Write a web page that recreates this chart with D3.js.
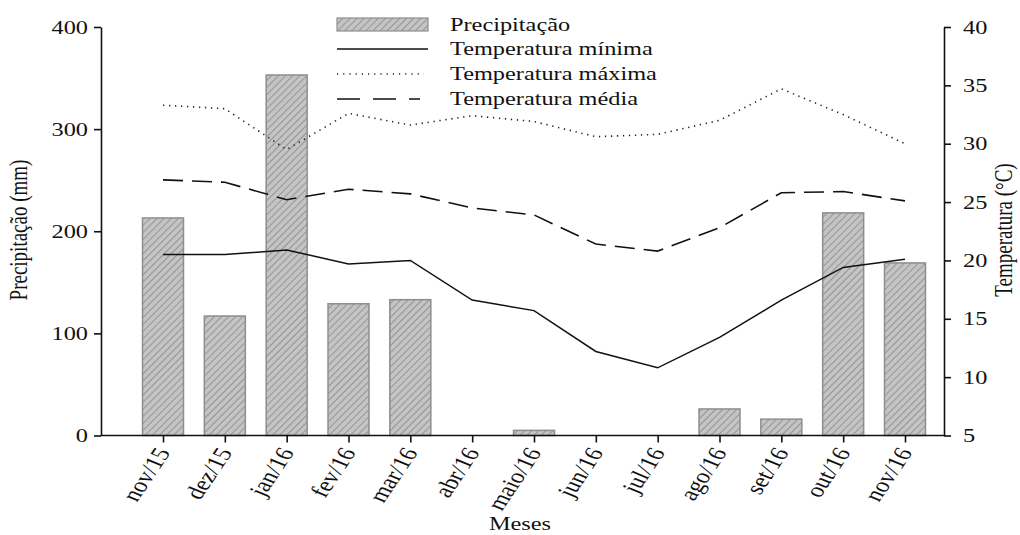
<!DOCTYPE html>
<html>
<head>
<meta charset="utf-8">
<script src="https://cdn.jsdelivr.net/npm/d3@7"></script>
<style>
  body { margin: 0; background: #fff; }
  text { font-family: "Liberation Serif", "Times New Roman", serif; fill: #111; }
</style>
</head>
<body>
<script>
// chart data
var meses = ["nov/15", "dez/15", "jan/16", "fev/16", "mar/16", "abr/16", "maio/16",
             "jun/16", "jul/16", "ago/16", "set/16", "out/16", "nov/16"];
var precipitacao = [213, 117, 353, 129, 133, 0, 5, 0, 0, 26, 16, 218, 169];
var tempMin = [20.5, 20.5, 20.9, 19.7, 20.0, 16.6, 15.7, 12.2, 10.8, 13.4, 16.6, 19.4, 20.1];
var tempMax = [33.3, 33.0, 29.5, 32.6, 31.6, 32.4, 31.9, 30.6, 30.8, 32.0, 34.7, 32.5, 30.0];
var tempMed = [26.9, 26.7, 25.2, 26.1, 25.7, 24.5, 23.9, 21.4, 20.8, 22.8, 25.8, 25.9, 25.1];
var precipTicks = [0, 100, 200, 300, 400];
var tempTicks = [5, 10, 15, 20, 25, 30, 35, 40];

var W = 1020, H = 535;
var Left = 101, Right = 944, Top = 27, Bottom = 435.5;
var SX = 1.28; // the figure text is stretched horizontally
var FS = 19;

var svg = d3.select("body").append("svg").attr("width", W).attr("height", H);

// hatch for the bars
var pat = svg.append("defs").append("pattern")
  .attr("id", "hatch")
  .attr("patternUnits", "userSpaceOnUse")
  .attr("width", 5).attr("height", 5)
  .attr("patternTransform", "rotate(45)");
pat.append("rect").attr("width", 5).attr("height", 5).attr("fill", "#c4c4c4");
pat.append("line").attr("x1", 0).attr("y1", 0).attr("x2", 0).attr("y2", 5)
  .attr("stroke", "#7a7a7a").attr("stroke-width", 1.3);

var x = d3.scalePoint().domain(meses).range([163, 905]);
var yP = d3.scaleLinear().domain([0, 400]).range([Bottom, Top]);
var yT = d3.scaleLinear().domain([5, 40]).range([Bottom, Top]);
var barW = 41;

// bars (zero months have no bar)
var barData = precipitacao.map(function(d, i) { return {mes: meses[i], v: d}; })
  .filter(function(d) { return d.v > 0; });
svg.selectAll("rect.bar")
  .data(barData)
  .enter()
  .append("rect")
  .attr("class", "bar")
  .attr("x", function(d) { return x(d.mes) - barW / 2; })
  .attr("y", function(d) { return yP(d.v); })
  .attr("width", barW)
  .attr("height", function(d) { return Bottom - yP(d.v); })
  .attr("fill", "url(#hatch)")
  .attr("stroke", "#8e8e8e")
  .attr("stroke-width", 1.5);

// lines
function tline(vals) {
  return d3.line()
    .x(function(d, i) { return x(meses[i]); })
    .y(function(d) { return yT(d); })(vals);
}
svg.append("path").attr("d", tline(tempMin)).attr("fill", "none")
  .attr("stroke", "#111").attr("stroke-width", 1.5);
svg.append("path").attr("d", tline(tempMax)).attr("fill", "none")
  .attr("stroke", "#222").attr("stroke-width", 1.6)
  .attr("stroke-dasharray", "1.3,4.7");
svg.append("path").attr("d", tline(tempMed)).attr("fill", "none")
  .attr("stroke", "#111").attr("stroke-width", 1.6)
  .attr("stroke-dasharray", "20,9");

// axes
function styleAxis(g) {
  g.selectAll("path").attr("stroke", "#111").attr("stroke-width", 1.6);
  g.selectAll("line").attr("stroke", "#111").attr("stroke-width", 1.6);
  g.selectAll("text").remove();
}
var axL = svg.append("g").attr("transform", "translate(" + Left + ",0)")
  .call(d3.axisLeft(yP).tickValues(precipTicks).tickSize(7).tickSizeOuter(0));
styleAxis(axL);
var axR = svg.append("g").attr("transform", "translate(" + Right + ",0)")
  .call(d3.axisRight(yT).tickValues(tempTicks).tickSize(7).tickSizeOuter(0));
styleAxis(axR);
svg.append("line").attr("x1", Left).attr("x2", Right).attr("y1", Bottom).attr("y2", Bottom)
  .attr("stroke", "#111").attr("stroke-width", 1.6);
var axB = svg.append("g").attr("transform", "translate(0," + Bottom + ")")
  .call(d3.axisBottom(x).tickSize(7).tickSizeOuter(0));
styleAxis(axB);
axB.select("path").remove();

// tick labels
precipTicks.forEach(function(t) {
  svg.append("text")
    .attr("transform", "translate(" + (Left - 13) + "," + (yP(t) + 6.5) + ") scale(" + SX + ",1)")
    .attr("text-anchor", "end").attr("font-size", FS).text(t);
});
tempTicks.forEach(function(t) {
  svg.append("text")
    .attr("transform", "translate(" + (Right + 19) + "," + (yT(t) + 6.5) + ") scale(" + SX + ",1)")
    .attr("font-size", FS).text(t);
});
meses.forEach(function(m) {
  svg.append("text")
    .attr("transform", "translate(" + (x(m) + 8) + "," + (Bottom + 17) + ") scale(" + SX + ",1) rotate(-62)")
    .attr("text-anchor", "end").attr("font-size", 20.5).text(m);
});

// axis titles
svg.append("text")
  .attr("transform", "translate(27,230) scale(" + SX + ",1) rotate(-90)")
  .attr("text-anchor", "middle").attr("font-size", FS).text("Precipitação (mm)");
svg.append("text")
  .attr("transform", "translate(1012,230) scale(" + SX + ",1) rotate(-90)")
  .attr("text-anchor", "middle").attr("font-size", FS).text("Temperatura (°C)");
svg.append("text")
  .attr("transform", "translate(520,530) scale(" + SX + ",1)")
  .attr("text-anchor", "middle").attr("font-size", FS).text("Meses");

// legend
var legX = 337, legTx = 450;
svg.append("rect").attr("x", legX).attr("y", 18).attr("width", 91).attr("height", 13)
  .attr("fill", "url(#hatch)").attr("stroke", "#8e8e8e").attr("stroke-width", 1.2);
svg.append("line").attr("x1", legX).attr("x2", 428).attr("y1", 49).attr("y2", 49)
  .attr("stroke", "#111").attr("stroke-width", 1.5);
svg.append("line").attr("x1", legX).attr("x2", 424).attr("y1", 74).attr("y2", 74)
  .attr("stroke", "#222").attr("stroke-width", 1.4).attr("stroke-dasharray", "1.2,5");
svg.append("line").attr("x1", legX).attr("x2", 420).attr("y1", 99).attr("y2", 99)
  .attr("stroke", "#111").attr("stroke-width", 1.6).attr("stroke-dasharray", "23,13");
var legLabels = ["Precipitação", "Temperatura mínima", "Temperatura máxima", "Temperatura média"];
var legY = [31, 55, 80, 105];
legLabels.forEach(function(t, i) {
  svg.append("text")
    .attr("transform", "translate(" + legTx + "," + legY[i] + ") scale(" + SX + ",1)")
    .attr("font-size", FS).text(t);
});
</script>
</body>
</html>
